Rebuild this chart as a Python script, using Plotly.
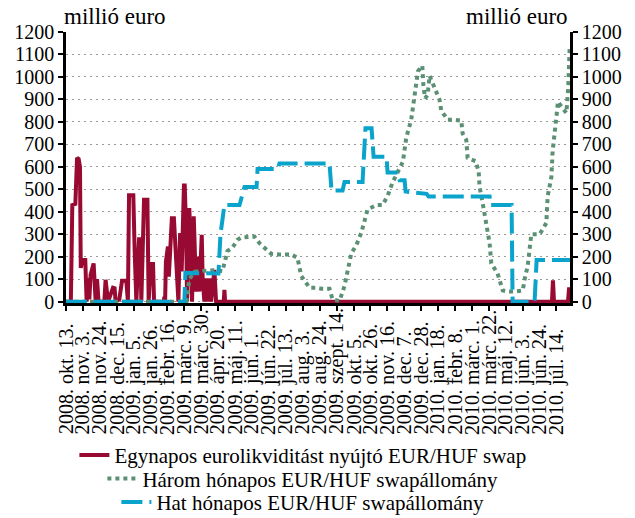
import plotly.graph_objects as go

# ---- data (x = trading-day index, values in million EUR) ----
tick_labels = [
    "2008. okt. 13.", "2008. nov. 3.", "2008. nov. 24.", "2008. dec. 15.",
    "2009. jan. 5.", "2009. jan. 26.", "2009. febr. 16.", "2009. márc. 9.",
    "2009. márc. 30.", "2009. ápr. 20.", "2009. máj. 11.", "2009. jún. 1.",
    "2009. jún. 22.", "2009. júl. 13.", "2009. aug. 3.", "2009. aug. 24.",
    "2009. szept. 14.", "2009. okt. 5.", "2009. okt. 26.", "2009. nov. 16.",
    "2009. dec. 7.", "2009. dec. 28.", "2010. jan. 18.", "2010. febr. 8.",
    "2010. márc. 1.", "2010. márc. 22.", "2010. máj. 12.", "2010. jún. 3.",
    "2010. jún. 24.", "2010. júl. 14.",
]

overnight_x = [0, 4.3, 5.6, 8.3, 9.8, 11.2, 12.4, 13.1, 14.5, 17.1, 18.3, 19.5, 20.7, 21.8, 24.5,
               26.3, 27.5, 28.9, 34, 35.1, 37.3, 38.9, 41.7, 43.1, 44, 47.3, 49.7, 53.5, 54.9, 55.9,
               59.7, 60.9, 62.4, 64.8, 65.9, 66.8, 69.2, 72.2, 73.3, 75.1, 77.2, 78.1, 86.8, 87.2, 87.9,
               88.6, 90.4, 91.2, 93.9, 95.7, 97, 98.2, 99.7, 101.2, 102.6, 104.6, 105.3, 106.5, 107.4,
               108.5, 109.4, 110.6, 111.8, 113.3, 114.5, 115.4, 116.8, 118.3, 120.4, 121.2, 122.7,
               124.3, 125.7, 127.2, 128.7, 130.1, 131.6, 133.1, 139.9, 140.5, 141.1, 431, 431.9, 432.8,
               445.2, 446.1, 447]
overnight_y = [0, 0, 430, 435, 640, 635, 600, 150, 185, 185, 0, 105, 10, 120, 170,
               0, 100, 0, 0, 97, 0, 20, 62, 60, 0, 10, 93, 93, 0, 473,
               473, 224, 0, 278, 278, 0, 453, 453, 0, 168, 168, 0, 0, 22, 0,
               178, 245, 111, 371, 371, 267, 104, 0, 305, 134, 517, 517, 327, 0,
               408, 408, 253, 0, 380, 193, 45, 200, 45, 297, 104, 0,
               104, 0, 104, 0, 60, 141, 0, 0, 52, 0, 0, 95, 0,
               0, 55, 55]

three_x = [0, 106.8, 109.4, 113.9, 121, 133.4, 138.7, 141.4, 143.2, 147.6, 152.1, 155.6, 162.7,
           167.1, 171.6, 176, 182, 189.3, 200, 205.3, 207.1, 208.6, 216, 222.2, 226.6, 233.7, 236.4,
           242.6, 247, 249.7, 253, 257.4, 261.8, 264.8, 267.4, 275.4, 280.7, 285.2, 289.6, 298.8,
           301.8, 306.2, 309.1, 312.1, 316, 317, 318.5, 320.7, 322.5, 325.1, 328.4, 331.3, 332.8,
           338.4, 342.9, 350.6, 351.7, 355, 356.2, 363.3, 366, 366.8, 369.5, 372.2, 375.7, 377.2,
           380.1, 382.8, 387.3, 391.7, 398, 405.1, 406.8, 409.5, 412.7, 420.1, 426, 427.2, 430.5,
           431.6, 434.9, 436.3, 440.5, 443.8, 445.4, 446.7]
three_y = [0, 0, 100, 133, 137, 140, 135, 185, 225, 240, 275, 285, 290,
           290, 260, 240, 213, 210, 210, 195, 145, 115, 62, 62, 57, 57, 10,
           3, 70, 145, 215, 250, 305, 360, 410, 430, 430, 470, 530, 623,
           730, 810, 920, 1025, 1050, 960, 905, 920, 1005, 970, 928, 898, 850,
           810, 810, 805, 750, 720, 640, 625, 580, 510, 440, 350, 260, 170,
           150, 125, 50, 45, 45, 50, 100, 160, 300, 300, 350, 470, 555,
           670, 820, 890, 860, 840, 950, 1130]

six_x = [0, 105, 105.9, 135.2, 137, 140.5, 153.9, 158.3, 169, 169.9, 187.7, 189.3, 233.7, 235.5,
         245.3, 247, 263, 265.6, 271, 272.8, 284.3, 285.2, 294.1, 295.9, 300.3, 301.2, 319.8, 321.6,
         375.7, 376.6, 395.2, 396.1, 415.6, 417.4, 447]
six_y = [0, 0, 128, 125, 300, 430, 430, 510, 510, 590, 590, 615, 615, 495,
         495, 532, 532, 772, 772, 645, 645, 575, 575, 540, 540, 490, 480, 468,
         468, 430, 430, 0, 0, 185, 185]

names = ["Egynapos eurolikviditást nyújtó EUR/HUF swap",
         "Három hónapos EUR/HUF swapállomány",
         "Hat hónapos EUR/HUF swapállomány"]

# ---- styling ----
FONT = "Liberation Serif"
RED = "#990a33"
GREEN = "#5b9074"
BLUE = "#0aa3cb"
STEP = 15
tick_vals = [i * STEP for i in range(len(tick_labels))]

fig = go.Figure()
fig.add_trace(go.Scatter(x=overnight_x, y=overnight_y, mode="lines", name=names[0],
                         line=dict(color=RED, width=4), legend="legend"))
fig.add_trace(go.Scatter(x=three_x, y=three_y, mode="lines", name=names[1],
                         line=dict(color=GREEN, width=4, dash="4px,4px"), legend="legend2"))
fig.add_trace(go.Scatter(x=six_x, y=six_y, mode="lines", name=names[2],
                         line=dict(color=BLUE, width=4, dash="21px,7px"), legend="legend3"))
# invisible trace to carry the right-hand axis
fig.add_trace(go.Scatter(x=[0], y=[0], yaxis="y2", mode="markers", marker=dict(opacity=0),
                         showlegend=False, hoverinfo="skip"))

yr = [-6, 1200]
common_y = dict(range=yr, tickvals=list(range(0, 1201, 100)), showline=True, linecolor="black",
                linewidth=2.5, ticks="outside", ticklen=5, tickwidth=2, tickcolor="black",
                tickfont=dict(family=FONT, size=20, color="black"), zeroline=False,
                fixedrange=True, automargin=False)

leg_common = dict(font=dict(family=FONT, size=21, color="black"), bgcolor="rgba(0,0,0,0)",
                  xref="paper", yref="paper", x=0.47, xanchor="center", yanchor="middle",
                  itemwidth=30, borderwidth=0)

# category labels: rotated, start-aligned at a common bottom line (as in the reference)
label_annots = [
    dict(text=t, x=v, xref="x", y=-0.4925, yref="paper", textangle=-90,
         xanchor="center", yanchor="bottom", showarrow=False,
         font=dict(family=FONT, size=20, color="black"))
    for v, t in zip(tick_vals, tick_labels)
]

fig.update_layout(
    width=635, height=518,
    margin=dict(l=66, r=65, t=32, b=215, autoexpand=False),
    paper_bgcolor="white", plot_bgcolor="white",
    font=dict(family=FONT, color="black"),
    xaxis=dict(range=[0, 447], tickmode="array", tickvals=tick_vals, showticklabels=False,
               showline=True, linecolor="black", linewidth=3, ticks="outside", ticklen=5,
               tickwidth=2, tickcolor="black", showgrid=False, zeroline=False,
               layer="below traces", automargin=False, fixedrange=True),
    yaxis=dict(**common_y, showgrid=True, gridcolor="#9a9a9a", gridwidth=1, griddash="2px,4px",
               layer="below traces"),
    yaxis2=dict(**common_y, overlaying="y", side="right", showgrid=False, layer="below traces"),
    legend=dict(**leg_common, y=-0.562),
    legend2=dict(**leg_common, y=-0.649),
    legend3=dict(**leg_common, y=-0.736),
    annotations=[
        dict(text="millió euro", xref="paper", yref="paper", x=0, y=1.059, xanchor="left",
             yanchor="middle", xshift=-4, showarrow=False, font=dict(family=FONT, size=23)),
        dict(text="millió euro", xref="paper", yref="paper", x=1, y=1.059, xanchor="right",
             yanchor="middle", showarrow=False, font=dict(family=FONT, size=23)),
    ] + label_annots,
)

fig.write_html("out.html", config={"displayModeBar": False},
               post_script="document.body.style.margin='0';")
